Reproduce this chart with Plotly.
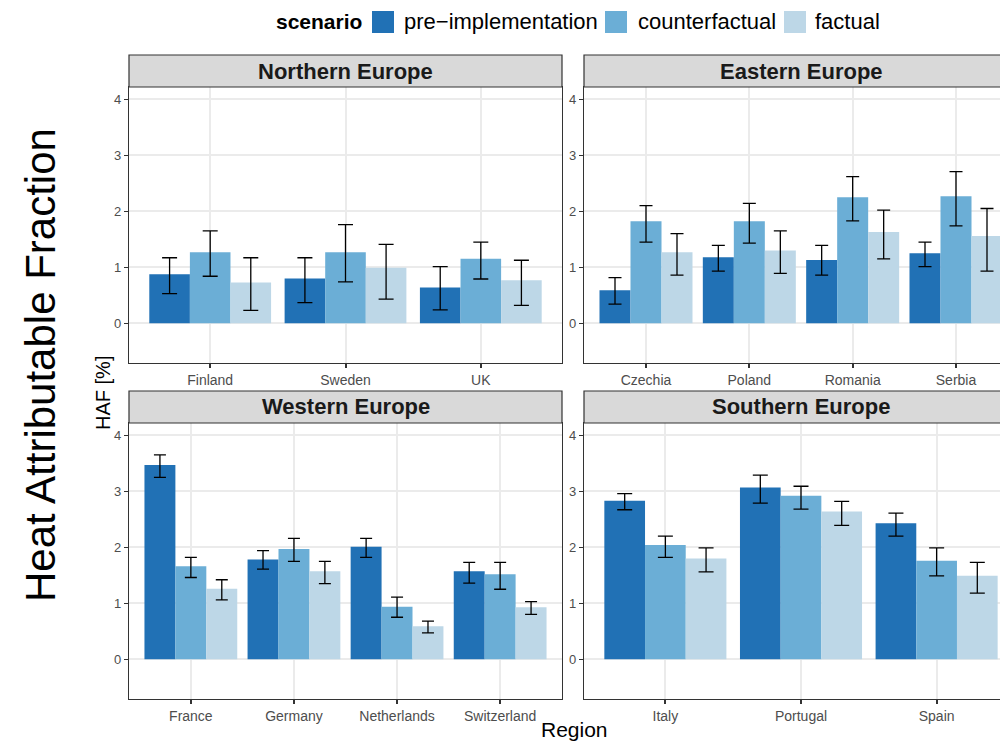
import plotly.graph_objects as go

# ---- data: heat attributable fraction (%) with 95% intervals ----
scenarios = ["pre\u2212implementation", "counterfactual", "factual"]
bar_colors = ["#2171b5", "#6baed6", "#bdd7e7"]

north_countries = ["Finland", "Sweden", "UK"]
north_pre = [0.875, 0.80, 0.64]
north_pre_lo = [0.53, 0.37, 0.24]
north_pre_hi = [1.17, 1.17, 1.01]
north_cf = [1.27, 1.27, 1.15]
north_cf_lo = [0.84, 0.74, 0.79]
north_cf_hi = [1.65, 1.76, 1.45]
north_f = [0.73, 0.99, 0.77]
north_f_lo = [0.23, 0.43, 0.32]
north_f_hi = [1.17, 1.41, 1.125]

east_countries = ["Czechia", "Poland", "Romania", "Serbia"]
east_pre = [0.59, 1.18, 1.13, 1.25]
east_pre_lo = [0.34, 0.93, 0.86, 1.01]
east_pre_hi = [0.815, 1.39, 1.39, 1.45]
east_cf = [1.82, 1.82, 2.25, 2.27]
east_cf_lo = [1.45, 1.43, 1.83, 1.74]
east_cf_hi = [2.10, 2.14, 2.62, 2.71]
east_f = [1.27, 1.30, 1.63, 1.56]
east_f_lo = [0.86, 0.89, 1.15, 0.93]
east_f_hi = [1.60, 1.65, 2.02, 2.05]

west_countries = ["France", "Germany", "Netherlands", "Switzerland"]
west_pre = [3.47, 1.78, 2.01, 1.57]
west_pre_lo = [3.25, 1.61, 1.82, 1.36]
west_pre_hi = [3.65, 1.94, 2.16, 1.73]
west_cf = [1.66, 1.97, 0.94, 1.52]
west_cf_lo = [1.46, 1.75, 0.75, 1.25]
west_cf_hi = [1.82, 2.16, 1.11, 1.73]
west_f = [1.26, 1.57, 0.59, 0.93]
west_f_lo = [1.06, 1.35, 0.47, 0.80]
west_f_hi = [1.42, 1.75, 0.68, 1.03]

south_countries = ["Italy", "Portugal", "Spain"]
south_pre = [2.83, 3.07, 2.43]
south_pre_lo = [2.67, 2.79, 2.20]
south_pre_hi = [2.96, 3.29, 2.61]
south_cf = [2.04, 2.92, 1.76]
south_cf_lo = [1.82, 2.68, 1.49]
south_cf_hi = [2.20, 3.09, 1.99]
south_f = [1.80, 2.64, 1.49]
south_f_lo = [1.56, 2.39, 1.18]
south_f_hi = [1.99, 2.82, 1.73]

facet_titles = ["Northern Europe", "Eastern Europe", "Western Europe", "Southern Europe"]
y_ticks = [0, 1, 2, 3, 4]

panels = [
    (north_countries, [(north_pre, north_pre_lo, north_pre_hi),
                       (north_cf, north_cf_lo, north_cf_hi),
                       (north_f, north_f_lo, north_f_hi)]),
    (east_countries, [(east_pre, east_pre_lo, east_pre_hi),
                      (east_cf, east_cf_lo, east_cf_hi),
                      (east_f, east_f_lo, east_f_hi)]),
    (west_countries, [(west_pre, west_pre_lo, west_pre_hi),
                      (west_cf, west_cf_lo, west_cf_hi),
                      (west_f, west_f_lo, west_f_hi)]),
    (south_countries, [(south_pre, south_pre_lo, south_pre_hi),
                       (south_cf, south_cf_lo, south_cf_hi),
                       (south_f, south_f_lo, south_f_hi)]),
]

# ---- layout geometry (pixels) ----
W, H = 1000, 742
FONT = "Liberation Sans, Arial, sans-serif"
BORDER = "#333333"
GRID = "#ebebeb"
TICKTXT = "#4d4d4d"

left_x = (129, 562)
right_x = (584, 1018)      # right column runs past the page edge
top_y = (87, 363)
bot_y = (423, 699)
strip_h = 32
cell = [(left_x, top_y), (right_x, top_y), (left_x, bot_y), (right_x, bot_y)]
cap_px = [7.5, 6.5, 6.0, 7.5]


def px(x):
    return x / W


def py(y):
    return 1 - y / H


fig = go.Figure()
layout_axes = {}
shapes = []
annotations = []

for i, ((countries, series), ((x0, x1), (y0, y1))) in enumerate(zip(panels, cell)):
    n = len(countries)
    sfx = "" if i == 0 else str(i + 1)
    xa, ya = "x" + sfx, "y" + sfx
    unit = (x1 - x0) / (n + 0.2)
    visible_x1 = min(x1, W)
    r_hi = -0.6 + (visible_x1 - x0) / unit
    clipped = visible_x1 < x1

    for k, (vals, lo, hi) in enumerate(series):
        fig.add_trace(go.Bar(
            x=countries, y=vals, xaxis=xa, yaxis=ya,
            name=scenarios[k], showlegend=False,
            marker=dict(color=bar_colors[k], line=dict(width=0)),
            error_y=dict(type="data", symmetric=False,
                         array=[h - v for h, v in zip(hi, vals)],
                         arrayminus=[v - l for v, l in zip(vals, lo)],
                         color="black", thickness=1.3, width=cap_px[i]),
        ))

    layout_axes["xaxis" + sfx] = dict(
        domain=[px(x0), px(visible_x1)], anchor=ya, type="category",
        range=[-0.6, r_hi], showgrid=True, gridcolor=GRID, gridwidth=2,
        showline=True, linecolor=BORDER, linewidth=1.2, mirror=True,
        ticks="outside", ticklen=4, tickwidth=1.5, tickcolor=BORDER,
        tickfont=dict(family=FONT, size=14, color=TICKTXT),
        fixedrange=True,
    )
    layout_axes["yaxis" + sfx] = dict(
        domain=[py(y1), py(y0)], anchor=xa, range=[-0.71, 4.22],
        tickvals=y_ticks, showgrid=True, gridcolor=GRID, gridwidth=2,
        zeroline=False, showline=True, linecolor=BORDER, linewidth=1.2,
        mirror=False if clipped else True,
        ticks="outside", ticklen=4, tickwidth=1.3, tickcolor=BORDER,
        tickfont=dict(family=FONT, size=13, color=TICKTXT),
        fixedrange=True,
    )

    # facet strip
    shapes.append(dict(type="rect", xref="paper", yref="paper",
                       x0=px(x0), x1=px(x1), y0=py(y0), y1=py(y0 - strip_h),
                       fillcolor="#d9d9d9", line=dict(color=BORDER, width=1.2),
                       layer="above"))
    annotations.append(dict(text="<b>%s</b>" % facet_titles[i], xref="paper", yref="paper",
                            x=px((x0 + x1) / 2), y=py(y0 - strip_h / 2),
                            xanchor="center", yanchor="middle", showarrow=False,
                            font=dict(family=FONT, size=22, color="#1a1a1a")))

# ---- legend drawn across the top ----
legend_keys = [(372, 394), (605, 627), (784, 806)]
legend_text_x = [402, 636, 813]
annotations.append(dict(text="<b>scenario</b>", xref="paper", yref="paper",
                        x=px(364), y=py(22), xanchor="right", yanchor="middle",
                        showarrow=False, font=dict(family=FONT, size=21, color="black")))
for k, ((kx0, kx1), tx) in enumerate(zip(legend_keys, legend_text_x)):
    shapes.append(dict(type="rect", xref="paper", yref="paper",
                       x0=px(kx0), x1=px(kx1), y0=py(33), y1=py(11),
                       fillcolor=bar_colors[k], line=dict(width=0)))
    annotations.append(dict(text=scenarios[k], xref="paper", yref="paper",
                            x=px(tx), y=py(22), xanchor="left", yanchor="middle",
                            showarrow=False, font=dict(family=FONT, size=22, color="black")))

# ---- axis titles ----
annotations.append(dict(text="HAF [%]", xref="paper", yref="paper",
                        x=px(103), y=py(393), xanchor="center", yanchor="middle",
                        textangle=-90, showarrow=False,
                        font=dict(family=FONT, size=20, color="black")))
annotations.append(dict(text="Region", xref="paper", yref="paper",
                        x=px(574), y=py(729), xanchor="center", yanchor="middle",
                        showarrow=False, font=dict(family=FONT, size=21, color="black")))
annotations.append(dict(text="Heat Attributable Fraction", xref="paper", yref="paper",
                        x=px(40), y=py(365), xanchor="center", yanchor="middle",
                        textangle=-90, showarrow=False,
                        font=dict(family=FONT, size=42, color="black")))

fig.update_layout(
    width=W, height=H, margin=dict(l=0, r=0, t=0, b=0),
    paper_bgcolor="white", plot_bgcolor="white",
    barmode="group", bargap=0.1, bargroupgap=0,
    showlegend=False, shapes=shapes, annotations=annotations,
    **layout_axes,
)

fig.write_html("out.html", config={"displayModeBar": False})
